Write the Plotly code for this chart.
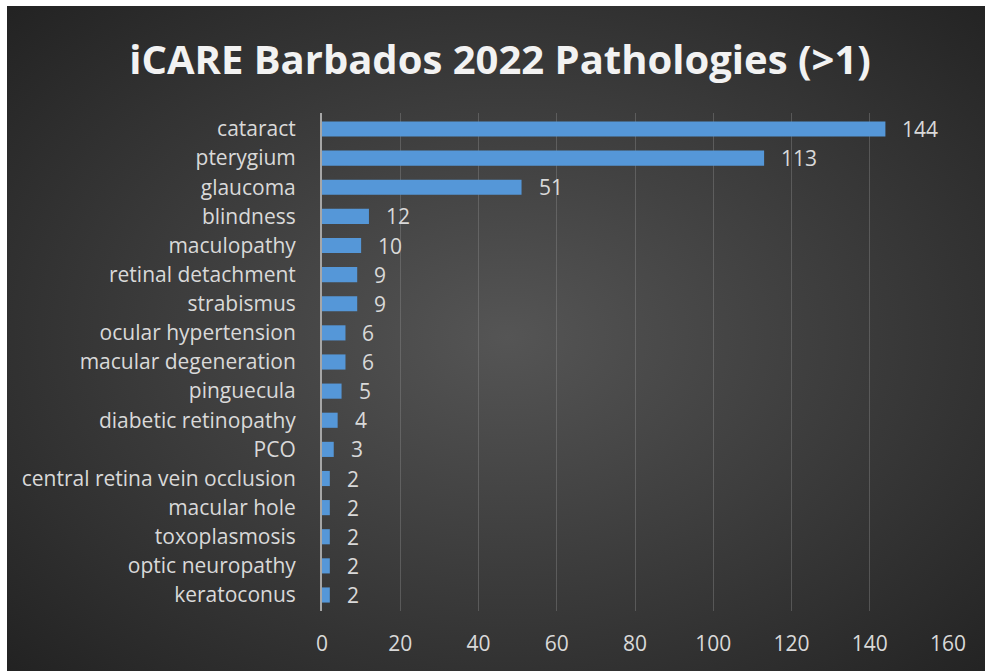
import plotly.graph_objects as go
import urllib.parse

categories = ["cataract", "pterygium", "glaucoma", "blindness", "maculopathy",
              "retinal detachment", "strabismus", "ocular hypertension",
              "macular degeneration", "pinguecula", "diabetic retinopathy", "PCO",
              "central retina vein occlusion", "macular hole", "toxoplasmosis",
              "optic neuropathy", "keratoconus"]
values = [144, 113, 51, 12, 10, 9, 9, 6, 6, 5, 4, 3, 2, 2, 2, 2, 2]
x_ticks = [0, 20, 40, 60, 80, 100, 120, 140, 160]

W, H = 985, 671
ML, MR, MT, MB = 322, 37, 113, 60
PW, PH = W - ML - MR, H - MT - MB

IMW, IMH = 1000, 690
svg = ("<svg xmlns='http://www.w3.org/2000/svg' width='%d' height='%d' preserveAspectRatio='none'>"
       "<defs><radialGradient id='g' cx='50%%' cy='48%%' r='70%%'>"
       "<stop offset='0' stop-color='#555555'/>"
       "<stop offset='1' stop-color='#222222'/></radialGradient></defs>"
       "<rect width='%d' height='%d' fill='url(#g)'/></svg>") % (IMW, IMH, IMW, IMH)
src = "data:image/svg+xml;charset=utf-8," + urllib.parse.quote(svg)

LABEL_FONT = dict(family="Open Sans", size=21, color="#d9d9d9")


def px_x(p):
    return (p - ML) / PW


def px_y(p):
    return 1 - (p - MT) / PH


fig = go.Figure()
fig.add_trace(go.Bar(
    x=values, y=categories, orientation="h",
    marker=dict(color="#5597d8", line=dict(width=0)),
    hoverinfo="x+y",
))

for c, v in zip(categories, values):
    fig.add_annotation(x=v, y=c, text=str(v), showarrow=False,
                       xanchor="left", xshift=15, font=LABEL_FONT)

# white outer border (top and left) of the picture
fig.add_shape(type="rect", xref="paper", yref="paper", layer="below",
              x0=px_x(-5), x1=px_x(7), y0=px_y(H + 5), y1=px_y(-5),
              fillcolor="white", line=dict(width=0))
fig.add_shape(type="rect", xref="paper", yref="paper", layer="below",
              x0=px_x(-5), x1=px_x(W + 5), y0=px_y(6), y1=px_y(-5),
              fillcolor="white", line=dict(width=0))

fig.update_layout(
    width=W, height=H,
    margin=dict(l=ML, r=MR, t=MT, b=MB),
    paper_bgcolor="#262626",
    plot_bgcolor="rgba(0,0,0,0)",
    bargap=0.48,
    showlegend=False,
    title=dict(text="<b>iCARE Barbados 2022 Pathologies (>1)</b>",
               x=500 / W, xref="container", xanchor="center",
               y=1 - 60 / H, yref="container", yanchor="middle",
               font=dict(family="Open Sans", size=40, color="#f2f2f2")),
    images=[dict(source=src, xref="paper", yref="paper",
                 x=px_x(7), y=px_y(6),
                 sizex=IMW / PW, sizey=IMH / PH,
                 xanchor="left", yanchor="top", sizing="stretch",
                 layer="below")],
    xaxis=dict(range=[0, 160], tickvals=x_ticks, showgrid=True,
               gridcolor="rgba(140,140,140,0.4)", gridwidth=1,
               zeroline=False, showline=False, ticks="",
               ticklabelstandoff=18, tickfont=LABEL_FONT),
    yaxis=dict(autorange="reversed", showgrid=False, showline=True,
               linecolor="#a6a6a6", linewidth=2, ticks="",
               ticklabelstandoff=20, tickfont=LABEL_FONT),
)

fig.write_html(
    "out.html", config={"displayModeBar": False},
    post_script=("document.documentElement.style.overflow='hidden';"
                 "document.documentElement.style.margin='0';"
                 "document.documentElement.style.background='#262626';"
                 "document.body.style.margin='0';"
                 "document.body.style.padding='0';"
                 "document.body.style.background='#262626';"
                 "document.body.style.overflow='hidden';"))
